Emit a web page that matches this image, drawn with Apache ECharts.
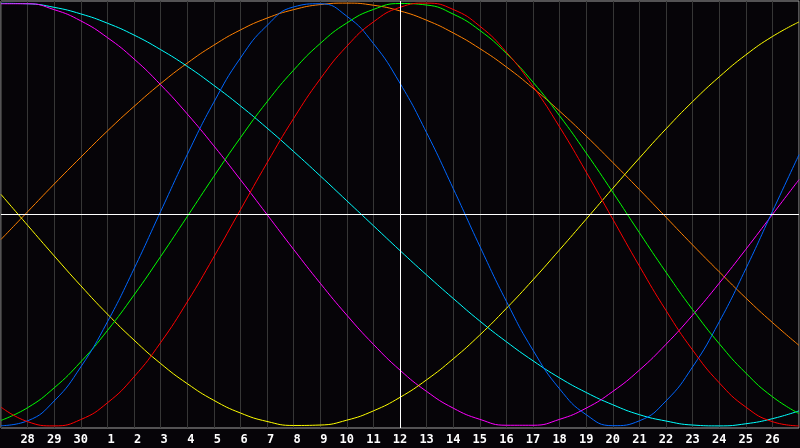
<!DOCTYPE html>
<html>
<head>
<meta charset="utf-8">
<script src="https://cdn.jsdelivr.net/npm/echarts@6/dist/echarts.min.js"></script>
<style>
html,body{margin:0;padding:0;background:#060408;}
#c{width:800px;height:448px;}
</style>
</head>
<body>
<div id="c"></div>
<script>
// Day labels for each x position (0..30)
const dayLabels = ['27','28','29','30','1','2','3','4','5','6','7','8','9','10','11','12','13','14','15','16','17','18','19','20','21','22','23','24','25','26','27'];

// Curve values (-1..1) read at each day position
const blueValues = [-0.999,-0.976,-0.882,-0.721,-0.508,-0.257,0.014,0.283,0.531,0.740,0.894,0.982,0.997,0.938,0.809,0.621,0.387,0.123,-0.150,-0.411,-0.642,-0.825,-0.947,-0.999,-0.976,-0.882,-0.721,-0.508,-0.257,0.014,0.283];
const redValues = [-0.911,-0.980,-1.000,-0.970,-0.891,-0.768,-0.606,-0.414,-0.201,0.022,0.244,0.454,0.641,0.796,0.911,0.980,1.000,0.970,0.891,0.768,0.606,0.414,0.201,-0.022,-0.244,-0.454,-0.641,-0.796,-0.911,-0.980,-1.000];
const greenValues = [-0.974,-0.914,-0.820,-0.697,-0.549,-0.381,-0.199,-0.010,0.180,0.363,0.533,0.683,0.809,0.906,0.970,0.998,0.991,0.948,0.871,0.762,0.626,0.467,0.291,0.105,-0.086,-0.273,-0.450,-0.611,-0.750,-0.862,-0.942];
const magentaValues = [0.997,0.997,0.969,0.916,0.837,0.736,0.614,0.476,0.325,0.165,0.000,-0.165,-0.325,-0.476,-0.614,-0.736,-0.837,-0.916,-0.969,-0.997,-0.997,-0.969,-0.916,-0.837,-0.736,-0.614,-0.476,-0.325,-0.165,0.000,0.165];
const yellowValues = [0.095,-0.051,-0.196,-0.337,-0.471,-0.594,-0.705,-0.800,-0.879,-0.939,-0.979,-0.998,-0.996,-0.973,-0.929,-0.865,-0.782,-0.683,-0.570,-0.444,-0.309,-0.167,-0.022,0.124,0.267,0.405,0.534,0.651,0.755,0.842,0.911];
const orangeValues = [-0.118,0.013,0.144,0.271,0.395,0.511,0.619,0.716,0.801,0.873,0.929,0.969,0.993,1.000,0.990,0.963,0.919,0.859,0.785,0.698,0.598,0.489,0.371,0.246,0.118,-0.013,-0.144,-0.271,-0.395,-0.511,-0.619];
const cyanValues = [0.999,0.997,0.980,0.949,0.905,0.849,0.780,0.701,0.611,0.514,0.409,0.298,0.183,0.065,-0.053,-0.171,-0.286,-0.397,-0.504,-0.602,-0.692,-0.773,-0.842,-0.900,-0.947,-0.977,-0.996,-1.000,-0.990,-0.966,-0.929];

const seriesDefs = [
  {name:'orange', color:'#ff8000', values: orangeValues},
  {name:'cyan', color:'#00ffff', values: cyanValues},
  {name:'magenta', color:'#ff00ff', values: magentaValues},
  {name:'yellow', color:'#ffff00', values: yellowValues},
  {name:'green', color:'#00ff00', values: greenValues},
  {name:'blue', color:'#0066ff', values: blueValues},
  {name:'red', color:'#ff0000', values: redValues}
];

const series = seriesDefs.map(s => ({
  name: s.name,
  type: 'line',
  data: s.values,
  smooth: 0.5,
  symbol: 'none',
  lineStyle: {color: s.color, width: 1},
  z: 3
}));

series.push({
  type: 'line',
  data: [],
  markLine: {
    silent: true,
    symbol: ['none','none'],
    label: {show: false},
    lineStyle: {color: '#ffffff', width: 1, type: 'solid'},
    data: [{xAxis: 15}, {yAxis: 0}]
  },
  z: 2
});

const chart = echarts.init(document.getElementById('c'));
chart.setOption({
  animation: false,
  backgroundColor: '#060408',
  grid: {left: 1, right: 1, top: 1, bottom: 20, outerBoundsMode: 'none', containLabel: false, show: true, borderColor: '#a0a0a0', borderWidth: 1, backgroundColor: 'transparent'},
  xAxis: {
    type: 'category', data: dayLabels, boundaryGap: false,
    axisLine: {show: false}, axisTick: {show: false},
    splitLine: {show: true, interval: 0, lineStyle: {color: '#363636', width: 1}},
    axisLabel: {
      interval: 0,
      color: '#ffffff', fontFamily: 'DejaVu Sans Mono', fontWeight: 'bold', fontSize: 12, margin: 6,
      formatter: function (v, i) {
        if (i <= 0 || i >= 30) return '';
        return v.length < 2 ? ' ' + v : v;
      }
    }
  },
  yAxis: {type: 'value', min: -1.01, max: 1.01, show: false},
  series: series
});
</script>
</body>
</html>
